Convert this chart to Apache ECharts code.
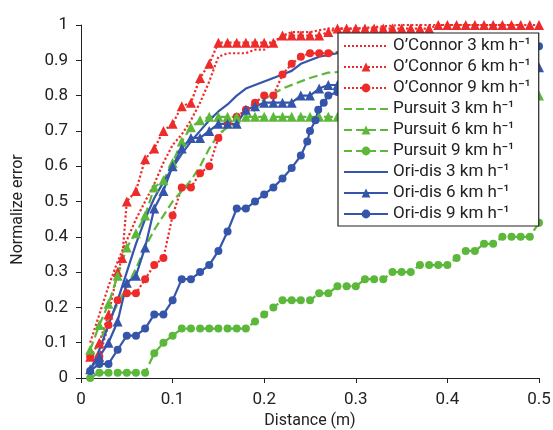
<!DOCTYPE html>
<html>
<head>
<meta charset="utf-8">
<script src="https://cdn.jsdelivr.net/npm/echarts@6/dist/echarts.min.js"></script>
<style>html,body{margin:0;padding:0;background:#fff}#c{width:553px;height:430px}</style>
</head>
<body>
<div id="c"></div>
<script>
// ---- data (x = distance in m, y = normalized error)
var xTicks = [0, 0.1, 0.2, 0.3, 0.4, 0.5];
var yTicks = [0, 0.1, 0.2, 0.3, 0.4, 0.5, 0.6, 0.7, 0.8, 0.9, 1];
var seriesNames = ['O\u2019Connor 3 km h\u207B\u00B9','O\u2019Connor 6 km h\u207B\u00B9','O\u2019Connor 9 km h\u207B\u00B9',
  'Pursuit 3 km h\u207B\u00B9','Pursuit 6 km h\u207B\u00B9','Pursuit 9 km h\u207B\u00B9',
  'Ori-dis 3 km h\u207B\u00B9','Ori-dis 6 km h\u207B\u00B9','Ori-dis 9 km h\u207B\u00B9'];

var oConnor3 = [[0.01,0.10],[0.02,0.18],[0.03,0.26],[0.04,0.33],[0.05,0.39],[0.06,0.45],[0.07,0.50],[0.08,0.55],[0.09,0.61],[0.10,0.66],[0.11,0.69],[0.12,0.73],[0.13,0.78],[0.14,0.84],[0.15,0.91],[0.16,0.92],[0.17,0.92],[0.18,0.92],[0.19,0.93],[0.20,0.93],[0.21,0.95],[0.22,0.97],[0.23,0.98],[0.25,0.98],[0.27,0.99],[0.30,0.99],[0.35,1.0],[0.40,1.0],[0.45,1.0],[0.48,1.0]];
var oConnor6 = [[0.01,0.06],[0.02,0.10],[0.03,0.18],[0.04,0.30],[0.045,0.34],[0.05,0.50],[0.06,0.53],[0.07,0.62],[0.08,0.65],[0.09,0.70],[0.10,0.72],[0.11,0.77],[0.12,0.78],[0.13,0.85],[0.14,0.89],[0.15,0.95],[0.16,0.95],[0.17,0.95],[0.18,0.95],[0.19,0.95],[0.20,0.95],[0.21,0.95],[0.22,0.97],[0.23,0.97],[0.24,0.97],[0.25,0.97],[0.26,0.97],[0.27,0.98],[0.28,0.99],[0.29,0.99],[0.30,0.99],[0.31,0.99],[0.32,0.99],[0.33,0.99],[0.34,0.99],[0.35,0.99],[0.36,0.99],[0.37,0.99],[0.38,0.99],[0.39,1.0],[0.40,1.0],[0.41,1.0],[0.42,1.0],[0.43,1.0],[0.44,1.0],[0.45,1.0],[0.46,1.0],[0.47,1.0],[0.48,1.0],[0.49,1.0],[0.50,1.0]];
var oConnor9 = [[0.01,0.06],[0.02,0.06],[0.03,0.15],[0.04,0.22],[0.05,0.24],[0.06,0.24],[0.07,0.28],[0.08,0.32],[0.09,0.34],[0.10,0.46],[0.11,0.54],[0.12,0.54],[0.13,0.58],[0.14,0.60],[0.15,0.68],[0.16,0.72],[0.17,0.74],[0.18,0.76],[0.19,0.78],[0.20,0.80],[0.21,0.80],[0.22,0.86],[0.23,0.89],[0.24,0.91],[0.25,0.92],[0.26,0.92],[0.27,0.92],[0.30,0.93],[0.35,0.93],[0.40,0.94],[0.45,0.94],[0.48,0.94]];
var pursuit3 = [[0.01,0.05],[0.02,0.10],[0.03,0.16],[0.04,0.21],[0.05,0.26],[0.06,0.31],[0.07,0.37],[0.08,0.42],[0.09,0.46],[0.10,0.50],[0.11,0.53],[0.12,0.56],[0.13,0.60],[0.14,0.65],[0.15,0.69],[0.16,0.71],[0.17,0.72],[0.18,0.73],[0.19,0.76],[0.20,0.79],[0.22,0.82],[0.25,0.85],[0.27,0.865],[0.30,0.87],[0.35,0.88],[0.40,0.89],[0.45,0.90],[0.48,0.90]];
var pursuit6 = [[0.01,0.08],[0.02,0.15],[0.03,0.21],[0.04,0.29],[0.05,0.37],[0.06,0.41],[0.07,0.46],[0.08,0.54],[0.09,0.56],[0.10,0.61],[0.11,0.67],[0.12,0.71],[0.13,0.73],[0.14,0.74],[0.15,0.74],[0.16,0.74],[0.17,0.74],[0.18,0.74],[0.19,0.74],[0.20,0.74],[0.21,0.74],[0.22,0.74],[0.23,0.74],[0.24,0.74],[0.25,0.74],[0.26,0.74],[0.27,0.74],[0.28,0.74],[0.29,0.74],[0.30,0.74],[0.35,0.74],[0.40,0.75],[0.44,0.76],[0.48,0.78],[0.50,0.80]];
var pursuit9 = [[0.01,0.0],[0.02,0.015],[0.03,0.015],[0.04,0.015],[0.05,0.015],[0.06,0.015],[0.07,0.015],[0.08,0.07],[0.09,0.10],[0.10,0.12],[0.11,0.14],[0.12,0.14],[0.13,0.14],[0.14,0.14],[0.15,0.14],[0.16,0.14],[0.17,0.14],[0.18,0.14],[0.19,0.16],[0.20,0.18],[0.21,0.20],[0.22,0.22],[0.23,0.22],[0.24,0.22],[0.25,0.22],[0.26,0.24],[0.27,0.24],[0.28,0.26],[0.29,0.26],[0.30,0.26],[0.31,0.28],[0.32,0.28],[0.33,0.28],[0.34,0.30],[0.35,0.30],[0.36,0.30],[0.37,0.32],[0.38,0.32],[0.39,0.32],[0.40,0.32],[0.41,0.34],[0.42,0.36],[0.43,0.36],[0.44,0.38],[0.45,0.38],[0.46,0.40],[0.47,0.40],[0.48,0.40],[0.49,0.40],[0.50,0.44]];
var oriDis3 = [[0.01,0.02],[0.02,0.08],[0.03,0.15],[0.04,0.22],[0.05,0.30],[0.06,0.38],[0.07,0.45],[0.08,0.51],[0.09,0.555],[0.10,0.595],[0.11,0.635],[0.12,0.67],[0.13,0.70],[0.14,0.73],[0.15,0.755],[0.16,0.775],[0.17,0.80],[0.18,0.82],[0.19,0.83],[0.20,0.84],[0.21,0.85],[0.22,0.86],[0.23,0.87],[0.24,0.89],[0.25,0.90],[0.26,0.91],[0.27,0.915],[0.28,0.92],[0.35,0.93],[0.48,0.94]];
var oriDis6 = [[0.01,0.025],[0.02,0.06],[0.03,0.10],[0.04,0.16],[0.05,0.27],[0.06,0.29],[0.07,0.37],[0.08,0.48],[0.09,0.53],[0.10,0.60],[0.11,0.65],[0.12,0.68],[0.13,0.68],[0.14,0.70],[0.15,0.72],[0.16,0.72],[0.17,0.72],[0.18,0.76],[0.19,0.77],[0.20,0.78],[0.21,0.78],[0.22,0.78],[0.23,0.78],[0.24,0.80],[0.25,0.80],[0.26,0.82],[0.27,0.83],[0.28,0.83],[0.30,0.84],[0.35,0.85],[0.40,0.86],[0.45,0.87],[0.50,0.88]];
var oriDis9 = [[0.01,0.02],[0.02,0.04],[0.03,0.04],[0.04,0.08],[0.05,0.12],[0.06,0.12],[0.07,0.14],[0.08,0.18],[0.09,0.18],[0.10,0.22],[0.11,0.28],[0.12,0.28],[0.13,0.30],[0.14,0.32],[0.15,0.36],[0.16,0.415],[0.17,0.48],[0.18,0.48],[0.19,0.50],[0.20,0.52],[0.21,0.54],[0.22,0.565],[0.23,0.595],[0.24,0.63],[0.247,0.67],[0.25,0.70],[0.256,0.73],[0.259,0.76],[0.265,0.78],[0.27,0.80],[0.28,0.81],[0.35,0.86],[0.42,0.90],[0.50,0.94]];

var RED = '#ee2b2b', GREEN = '#5cb83a', BLUE = '#3555ab';
var FONT = "Roboto, 'Liberation Sans', sans-serif";

function mk(name, data, color, lineType, symbol, size) {
  return {
    name: name, type: 'line', data: data,
    symbol: symbol || 'none', symbolSize: size || 8, showSymbol: !!symbol,
    lineStyle: { color: color, width: 2.2, type: lineType },
    itemStyle: { color: color },
    animation: false
  };
}
// legend entries: hide the marker for series drawn without markers
var legendData = seriesNames.map(function (n, i) {
  return (i % 3 === 0) ? { name: n, itemStyle: { opacity: 0 } } : { name: n };
});

var chart = echarts.init(document.getElementById('c'), null, { renderer: 'canvas' });
chart.setOption({
  animation: false,
  textStyle: { fontFamily: FONT },
  grid: { left: 81, right: 14, top: 25, bottom: 52, containLabel: false, outerBoundsMode: 'none' },
  legend: {
    orient: 'vertical', left: 338, top: 33,
    itemWidth: 44, itemHeight: 11, itemGap: 3,
    padding: [4, 8, 3, 5],
    backgroundColor: '#fff', borderColor: '#222', borderWidth: 1.2,
    textStyle: { fontFamily: FONT, fontSize: 17, color: '#222', lineHeight: 18 },
    data: legendData
  },
  xAxis: {
    type: 'value', min: xTicks[0], max: xTicks[xTicks.length - 1], interval: 0.1,
    name: 'Distance (m)', nameLocation: 'middle', nameGap: 35,
    nameTextStyle: { fontFamily: FONT, fontSize: 16, color: '#222' },
    axisLine: { lineStyle: { color: '#222', width: 1 } },
    axisTick: { length: 5, lineStyle: { color: '#222' } },
    axisLabel: { fontFamily: FONT, fontSize: 17, color: '#222', margin: 13 },
    splitLine: { show: false }
  },
  yAxis: {
    type: 'value', min: yTicks[0], max: yTicks[yTicks.length - 1], interval: 0.1,
    name: 'Normalize error', nameLocation: 'middle', nameGap: 55,
    nameTextStyle: { fontFamily: FONT, fontSize: 16, color: '#222', padding: [0, 16, 0, 0] },
    axisLine: { show: true, lineStyle: { color: '#222', width: 1 } },
    axisTick: { show: true, length: 5, lineStyle: { color: '#222' } },
    axisLabel: { fontFamily: FONT, fontSize: 17, color: '#222', margin: 13 },
    splitLine: { show: false }
  },
  series: [
    mk(seriesNames[0], oConnor3, RED, 'dotted'),
    mk(seriesNames[1], oConnor6, RED, 'dotted', 'triangle', 10),
    mk(seriesNames[2], oConnor9, RED, 'dotted', 'circle', 8),
    mk(seriesNames[3], pursuit3, GREEN, 'dashed'),
    mk(seriesNames[4], pursuit6, GREEN, 'dashed', 'triangle', 10),
    mk(seriesNames[5], pursuit9, GREEN, 'dashed', 'circle', 8),
    mk(seriesNames[6], oriDis3, BLUE, 'solid'),
    mk(seriesNames[7], oriDis6, BLUE, 'solid', 'triangle', 10),
    mk(seriesNames[8], oriDis9, BLUE, 'solid', 'circle', 8)
  ]
});
</script>
</body>
</html>
